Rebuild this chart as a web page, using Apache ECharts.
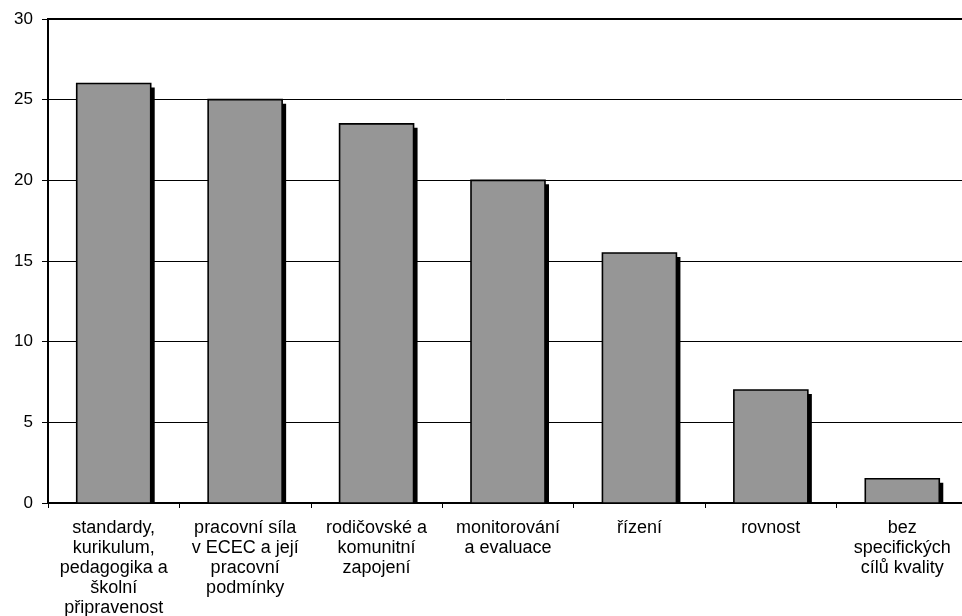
<!DOCTYPE html>
<html>
<head>
<meta charset="utf-8">
<script src="https://cdn.jsdelivr.net/npm/echarts@6/dist/echarts.min.js"></script>
<style>
  html, body { margin: 0; padding: 0; background: #fff; overflow: hidden; }
  #chart { width: 962px; height: 616px; }
</style>
</head>
<body>
<div id="chart"></div>
<script>
// Kategorie cílů kvality a počet zemí
const categories = [
  'standardy,\nkurikulum,\npedagogika a\nškolní\npřipravenost',
  'pracovní síla\nv ECEC a její\npracovní\npodmínky',
  'rodičovské a\nkomunitní\nzapojení',
  'monitorování\na evaluace',
  'řízení',
  'rovnost',
  'bez\nspecifických\ncílů kvality'
];
const values = [26, 25, 23.5, 20, 15.5, 7, 1.5];
const yTicks = [0, 5, 10, 15, 20, 25, 30];

const BAR_RATIO = 0.563;   // šířka sloupce vůči šířce kategorie
const SHADOW_DX = 4, SHADOW_DY = 4;

function renderBar(params, api) {
  const idx = api.value(0);
  const v = api.value(1);
  const top = api.coord([idx, v]);
  const base = api.coord([idx, 0]);
  const band = api.size([1, 0])[0];
  const w = band * BAR_RATIO;
  const x0 = top[0] - w / 2;
  const h = base[1] - top[1];
  return {
    type: 'group',
    children: [
      {
        type: 'rect',
        shape: { x: x0 + SHADOW_DX, y: top[1] + SHADOW_DY, width: w, height: Math.max(0, h - SHADOW_DY) },
        style: { fill: '#000' }
      },
      {
        type: 'rect',
        shape: { x: x0, y: top[1], width: w, height: h },
        style: { fill: '#969696', stroke: '#000', lineWidth: 1.6 }
      }
    ]
  };
}

const chart = echarts.init(document.getElementById('chart'));
chart.setOption({
  animation: false,
  textStyle: { fontFamily: 'Liberation Sans, Arial, sans-serif' },
  grid: {
    left: 48, top: 19, bottom: 113, width: 920,
    containLabel: false,
    outerBoundsMode: 'none',
    show: true, borderColor: '#000', borderWidth: 2, backgroundColor: 'transparent'
  },
  xAxis: {
    type: 'category',
    data: categories,
    boundaryGap: true,
    axisLine: { lineStyle: { color: '#000', width: 1 } },
    axisTick: { show: true, length: 5, lineStyle: { color: '#000' } },
    axisLabel: {
      color: '#000', fontSize: 18, lineHeight: 20, margin: 15,
      interval: 0, align: 'center'
    }
  },
  yAxis: {
    type: 'value',
    min: yTicks[0], max: yTicks[yTicks.length - 1], interval: 5,
    axisLine: { show: true, lineStyle: { color: '#000', width: 2 } },
    axisTick: { show: true, length: 6, lineStyle: { color: '#000' } },
    axisLabel: { color: '#000', fontSize: 17, margin: 15 },
    splitLine: { lineStyle: { color: '#000', width: 1 } }
  },
  series: [{
    type: 'custom',
    renderItem: renderBar,
    encode: { x: 0, y: 1 },
    data: values.map((v, i) => [i, v])
  }]
});
</script>
</body>
</html>
